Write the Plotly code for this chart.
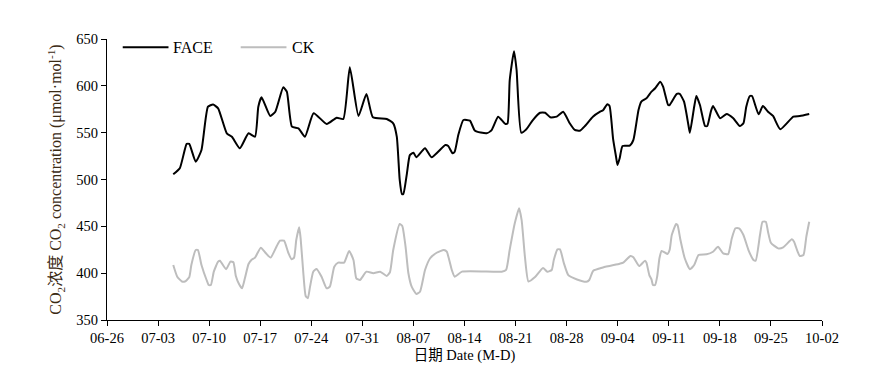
import datetime as dt
import plotly.graph_objects as go

# Day offsets from 06-26 and CO2 concentration values (μmol·mol-1)
face_day = [9.08, 9.98, 10.92, 11.27, 12.16, 12.95, 13.84, 14.54, 15.23, 16.42, 17.12, 18.21, 19.4, 20.29,
            20.74, 21.18, 22.37, 23.07, 24.16, 24.65, 25.35, 26.24, 27.13, 28.32, 30.11, 31.49, 32.39, 33.28,
            34.47, 35.56, 36.45, 38.34, 39.23, 39.72, 40.12, 40.42, 40.62, 41.11, 41.51, 42.01, 42.4, 43.59,
            44.48, 46.37, 46.77, 47.36, 47.66, 48.15, 48.85, 49.74, 50.44, 52.02, 52.72, 53.61, 54.6, 54.9,
            55.2, 55.79, 56.14, 56.78, 57.48, 58.37, 59.36, 60.05, 60.75, 61.64, 62.53, 63.42, 64.12, 64.81,
            65.51, 66.6, 67.59, 67.99, 68.58, 68.88, 69.37, 69.77, 69.97, 70.27, 70.66, 71.65, 72.15, 72.85,
            73.24, 73.94, 74.63, 75.13, 75.82, 76.22, 76.91, 77.11, 78.1, 78.5, 79.09, 79.69, 79.89, 80.48,
            80.78, 81.27, 81.97, 82.27, 82.76, 83.06, 84.05, 84.94, 85.84, 86.73, 87.23, 87.62, 88.12, 88.41,
            89.31, 89.9, 90.6, 91.29, 92.28, 94.07, 94.96, 96.25]
face_val = [505.6, 512, 538, 538, 519, 531.5, 577.7, 580, 576, 549.3, 545.7, 533.3, 549.3, 545.7,
            577.7, 587.7, 567.8, 572.4, 598.4, 593.8, 556.4, 554.6, 545.7, 570.7, 559.3, 566, 564.6, 619.8,
            567.8, 591.3, 566.4, 564.6, 560, 545.7, 499.5, 484.5, 484.5, 506.6, 526, 528.6, 523.7, 533.3,
            523.7, 536.8, 535.8, 528, 529.7, 547.5, 563.5, 562.8, 552, 549.3, 552.8, 567, 559.3, 560,
            606.2, 637, 616.9, 550, 553.6, 563.5, 571.3, 571.3, 566.4, 567.1, 572.4, 560, 552.9, 552.1,
            557.1, 567.1, 572.4, 574, 580.3, 578.5, 543, 524.3, 515.5, 522.6, 535.8, 536.1, 542.2, 574.2,
            583.1, 586.7, 593.8, 597.4, 604.4, 599.1, 579.5, 579.5, 591.3, 591.3, 583.1, 558.2, 550, 577.7,
            589.1, 579.5, 557.1, 557.1, 572.4, 578.5, 565.3, 570, 565.3, 557.1, 560, 577.7, 589.1, 589.1,
            569.6, 578.5, 572.4, 567.8, 553.6, 567.1, 567.8, 570]

ck_day = [9.08, 9.63, 10.27, 10.67, 11.27, 11.56, 12.16, 12.46, 12.95, 13.65, 13.94, 14.24, 14.64, 15.23, 15.48,
          16.32, 16.92, 17.32, 17.66, 18.11, 18.51, 18.9, 19.4, 19.79, 20.29, 21.08, 21.78, 22.42, 23.27, 23.71,
          24.26, 24.85, 25.3, 25.64, 25.94, 26.34, 26.54, 26.93, 27.23, 27.53, 27.83, 28.27, 28.72, 29.41, 30.11,
          30.55, 31.15, 31.69, 32.49, 33.18, 33.78, 34.17, 34.67, 35.56, 36.5, 37.44, 38.34, 38.78, 39.23,
          40.12, 40.47, 40.92, 41.31, 41.76, 42.4, 42.9, 43.59, 44.29, 45.18, 46.17, 46.57, 47.26, 47.66, 48.65,
          54.1, 54.7, 55.19, 55.89, 56.48, 56.83, 57.28, 57.77, 58.67, 59.76, 60.35, 60.95, 61.24, 61.74, 62.09,
          62.63, 63.23, 64.42, 65.71, 66.1, 66.65, 67.99, 70.27, 70.76, 71.75, 72.15, 72.94, 73.74, 73.94, 74.33,
          74.63, 74.83, 75.13, 75.42, 75.72, 76.02, 76.51, 76.81, 77.11, 77.41, 78.0, 78.2, 78.6, 79.19, 79.89,
          80.48, 81.08, 82.17, 83.06, 83.75, 84.45, 85.14, 85.64, 86.13, 86.63, 87.23, 87.92, 88.61, 88.91, 89.5,
          89.85, 90.3, 90.6, 90.99, 91.98, 92.68, 93.87, 94.17, 94.66, 94.96, 95.46, 95.85, 96.25]
ck_val = [408.7, 396.2, 391.1, 391.1, 395.6, 408.7, 424.7, 424.7, 408.7, 392.7, 387.4, 387.4, 401.6, 412.3, 413.2,
          404.2, 412.3, 411.6, 397, 388.1, 383.8, 394.5, 409.8, 414.1, 416.6, 427.2, 421.2, 416.6, 429, 434.7,
          434.7, 421.8, 414.8, 416.6, 435.4, 449, 437.2, 398, 375.6, 373.2, 385.6, 401.6, 404.5, 396.2, 383.8,
          385.6, 406.9, 411.2, 411.2, 423.7, 414.1, 394.5, 392.7, 401.6, 399.9, 401.6, 397, 401, 424.7,
          452.5, 450.4, 428.3, 399.9, 385.6, 377.8, 380.2, 403.4, 415.9, 421.8, 424.7, 422.9, 403.4, 396.2, 401.6,
          401.6, 403.4, 424.7, 453.2, 469.3, 456.7, 417.7, 391.1, 395.8, 405.5, 401.6, 403.4, 414.1, 425.4, 425.4,
          410.5, 397.9, 393.3, 390.8, 392.7, 402.6, 406.1, 410.1, 411.2, 418.3, 416.9, 407.6, 413.3, 411.2, 398,
          393.4, 387.4, 387.4, 397, 415.9, 423.7, 421.8, 420.4, 424.7, 440.7, 452.5, 451.4, 435.4, 415.9, 404.2,
          408.7, 419.4, 420.1, 422.9, 428.3, 421.2, 420.4, 437.2, 447.9, 447.9, 440.7, 424.7, 414.1, 413.3, 440.7,
          454.9, 454.9, 444.2, 432.5, 426.5, 427.5, 436.1, 433.6, 422.9, 418.3, 419.4, 438.8, 454.9]

series_names = ["FACE", "CK"]
series_colors = ["black", "#bdbdbd"]

base = dt.datetime(2023, 6, 26)
x_start = "2023-06-26"
x_end = "2023-10-02"
y_range = [350, 650]

def to_dates(days):
    return [base + dt.timedelta(days=d) for d in days]

font_family = "Liberation Serif, Times New Roman, Noto Sans CJK SC, serif"

fig = go.Figure()
for name, days, vals, col in zip(series_names, [face_day, ck_day], [face_val, ck_val], series_colors):
    fig.add_trace(go.Scatter(x=to_dates(days), y=vals, name=name, mode="lines", showlegend=False,
                             line=dict(color=col, width=2, shape="spline", smoothing=0.5)))

# Manual legend (line sample + label) placed in paper coordinates
legend_y = 0.971
legend_items = [(0.022, 0.086, 0.093), (0.187, 0.251, 0.259)]
for (x0, x1, xt), name, col in zip(legend_items, series_names, series_colors):
    fig.add_shape(type="line", xref="paper", yref="paper", x0=x0, x1=x1, y0=legend_y, y1=legend_y,
                  line=dict(color=col, width=2))
    fig.add_annotation(xref="paper", yref="paper", x=xt, y=legend_y, text=name, showarrow=False,
                       xanchor="left", yanchor="middle", xshift=-2, font=dict(size=16, color="black"))

# page body adds an 8px offset, so the figure is 8px smaller than the window
fig.update_layout(
    width=887, height=377,
    margin=dict(l=99, r=73, t=31, b=65),
    paper_bgcolor="white", plot_bgcolor="white",
    font=dict(family=font_family, size=14.5, color="black"),
    showlegend=False,
    xaxis=dict(type="date", range=[x_start, x_end], tick0=x_start, dtick=7 * 86400000,
               tickformat="%m-%d", showline=True, linecolor="black", linewidth=1,
               ticks="outside", ticklen=5, tickcolor="black", showgrid=False, zeroline=False,
               automargin=False,
               title=dict(text="日期 Date (M-D)", standoff=4, font=dict(size=14.5))),
    yaxis=dict(range=y_range, dtick=50, showline=True, linecolor="black", linewidth=1,
               ticks="outside", ticklen=5, tickcolor="black", showgrid=False, zeroline=False,
               automargin=False,
               title=dict(text="CO<sub>2</sub>浓度 CO<sub>2</sub> concentration (μmol·mol<sup>-1</sup>)",
                          standoff=10, font=dict(size=16, color="#3b2a14"))),
)

fig.write_html("out.html")
